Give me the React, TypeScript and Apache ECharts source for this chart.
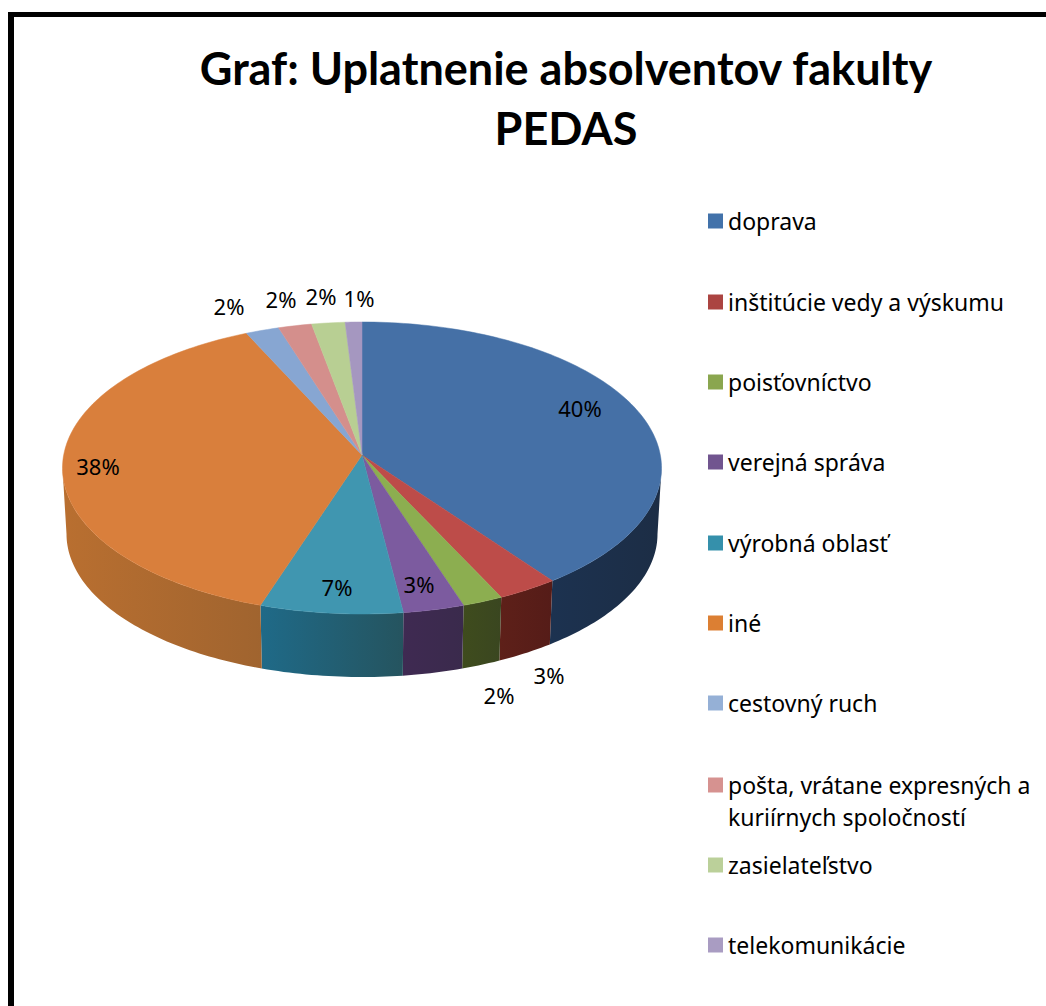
import React, { useEffect, useRef } from "react";
import * as echarts from "echarts";

const TITLE = "Graf: Uplatnenie absolventov fakulty\nPEDAS";
const categories = [
  "doprava",
  "inštitúcie vedy a výskumu",
  "poisťovníctvo",
  "verejná správa",
  "výrobná oblasť",
  "iné",
  "cestovný ruch",
  "pošta, vrátane expresných a\nkuriírnych spoločností",
  "zasielateľstvo",
  "telekomunikácie",
];
const shares = [40, 3, 2, 3, 7, 38, 2, 2, 2, 1];

const topColors = ["#4570a6", "#bd4c49", "#8cae50", "#7c5b9f", "#4096b0", "#d97f3c", "#87a6d2", "#d48f8c", "#b8cf93", "#a597c0"];
const legendColors = ["#4272aa", "#ab4441", "#8aa64f", "#71558f", "#3590ab", "#dc7f33", "#95b0d6", "#d69290", "#bbd09a", "#a99cc2"];
const wallStops = [
  ["#1c3250", "#1c2d45"],
  ["#5e2019", "#551c18"],
  ["#3f4c1d", "#3a4620"],
  ["#3f2a52", "#3a2a4c"],
  ["#1f6a88", "#25545f"],
  ["#b96f30", "#a0642f"],
  ["#8aa6cc", "#8aa6cc"],
  ["#c98b88", "#c98b88"],
  ["#aec48c", "#aec48c"],
  ["#9c8fb5", "#9c8fb5"],
];

const labelCenters = [
  [580, 408], [549, 675], [499, 695], [419, 584], [337, 587],
  [98, 466], [229, 306], [281, 299], [321, 296], [359, 298],
];
const legendRows = [221, 302, 382, 462, 543, 623, 703, 785, 865, 945];

const TEXT_FONT = "Noto Sans";
const TITLE_FONT = "Lato";
const PIE = { cx: 362, cy: 468, rx: 299.5, ry: 146, hubY: 455, rayY: 453, bx: 362, by: 534, brx: 295.5, bry: 143 };

const total = shares.reduce((a, b) => a + b, 0);

// Angle on the rim (from the top, clockwise) hit by a ray leaving the off-centre hub at true angle a.
function rimAngle(a: number) {
  const dx = Math.sin(a);
  const dy = -Math.cos(a);
  const hy = (PIE.rayY - PIE.cy) / PIE.ry;
  const b = hy * dy;
  const t = -b + Math.sqrt(b * b - (hy * hy - 1));
  const x = t * dx;
  const y = hy + t * dy;
  return ((Math.atan2(x, -y) % (2 * Math.PI)) + 2 * Math.PI) % (2 * Math.PI);
}
const topPt = (th: number) => [PIE.cx + PIE.rx * Math.sin(th), PIE.cy - PIE.ry * Math.cos(th)];
const botPt = (th: number) => [PIE.bx + PIE.brx * Math.sin(th), PIE.by - PIE.bry * Math.cos(th)];

function sliceElements(i: number) {
  const before = shares.slice(0, i).reduce((a, b) => a + b, 0);
  const a0 = (before / total) * 2 * Math.PI;
  const a1 = ((before + shares[i]) / total) * 2 * Math.PI;
  const t0 = i === 0 ? 0 : rimAngle(a0);
  let t1 = rimAngle(a1);
  if (t1 <= t0) t1 += 2 * Math.PI;

  const n = Math.max(6, Math.ceil((t1 - t0) / 0.02));
  const arc: number[][] = [];
  for (let k = 0; k <= n; k++) arc.push(topPt(t0 + ((t1 - t0) * k) / n));

  const children: any[] = [];
  const w0 = Math.max(t0, Math.PI / 2);
  const w1 = Math.min(t1, (3 * Math.PI) / 2);
  if (w1 > w0) {
    const m = Math.max(6, Math.ceil((w1 - w0) / 0.02));
    const up: number[][] = [];
    const low: number[][] = [];
    for (let k = 0; k <= m; k++) {
      const t = w0 + ((w1 - w0) * k) / m;
      up.push(topPt(t));
      low.push(botPt(t));
    }
    children.push({
      type: "polygon",
      shape: { points: up.concat(low.reverse()) },
      style: {
        fill: new echarts.graphic.LinearGradient(0, 0, 1, 0, [
          { offset: 0, color: wallStops[i][0] },
          { offset: 1, color: wallStops[i][1] },
        ]),
      },
    });
  }
  children.push({
    type: "polygon",
    shape: { points: [[PIE.cx, PIE.hubY], ...arc] },
    style: { fill: topColors[i], stroke: topColors[i], lineWidth: 0.5 },
  });
  children.push({
    type: "text",
    z2: 10,
    style: {
      text: `${shares[i]}%`,
      x: labelCenters[i][0],
      y: labelCenters[i][1],
      align: "center",
      verticalAlign: "middle",
      fill: "#000",
      fontFamily: TEXT_FONT,
      fontSize: 22,
    },
  });
  return { type: "group", children };
}

export default function App() {
  const ref = useRef<HTMLDivElement>(null);
  useEffect(() => {
    const chart = echarts.init(ref.current!, undefined, { renderer: "svg" });
    const legendText = { fontFamily: TEXT_FONT, fontSize: 23, color: "#000", lineHeight: 30 };
    const secondLine = categories[7].split("\n")[1];
    chart.setOption({
      animation: false,
      backgroundColor: "#fff",
      title: {
        text: TITLE,
        left: 561,
        top: 33,
        textAlign: "center",
        textStyle: { fontFamily: TITLE_FONT, fontWeight: "bold", fontSize: 45, lineHeight: 60, color: "#000" },
      },
      legend: categories.map((name, i) => ({
        show: true,
        orient: "vertical",
        left: 708,
        top: legendRows[i] - 15,
        padding: 0,
        itemWidth: 15,
        itemHeight: 15,
        selectedMode: false,
        icon: "rect",
        data: [{ name, itemStyle: { color: legendColors[i] } }],
        formatter: (n: string) => n.split("\n")[0],
        textStyle: legendText,
      })),
      graphic: [
        { type: "rect", shape: { x: 8, y: 12, width: 6, height: 994 }, style: { fill: "#000" } },
        { type: "rect", shape: { x: 8, y: 12, width: 1038, height: 5 }, style: { fill: "#000" } },
        {
          type: "text",
          style: {
            text: secondLine,
            x: 728,
            y: 817,
            verticalAlign: "middle",
            fill: "#000",
            fontFamily: TEXT_FONT,
            fontSize: 23,
          },
        },
      ],
      series: categories.map((name, i) => ({
        type: "custom",
        name,
        coordinateSystem: "none",
        silent: true,
        itemStyle: { color: legendColors[i] },
        data: [shares[i]],
        renderItem: () => sliceElements(i),
      })),
    });
    return () => chart.dispose();
  }, []);
  return <div ref={ref} style={{ position: "absolute", left: 0, top: 0, width: 1046, height: 1006 }} />;
}
